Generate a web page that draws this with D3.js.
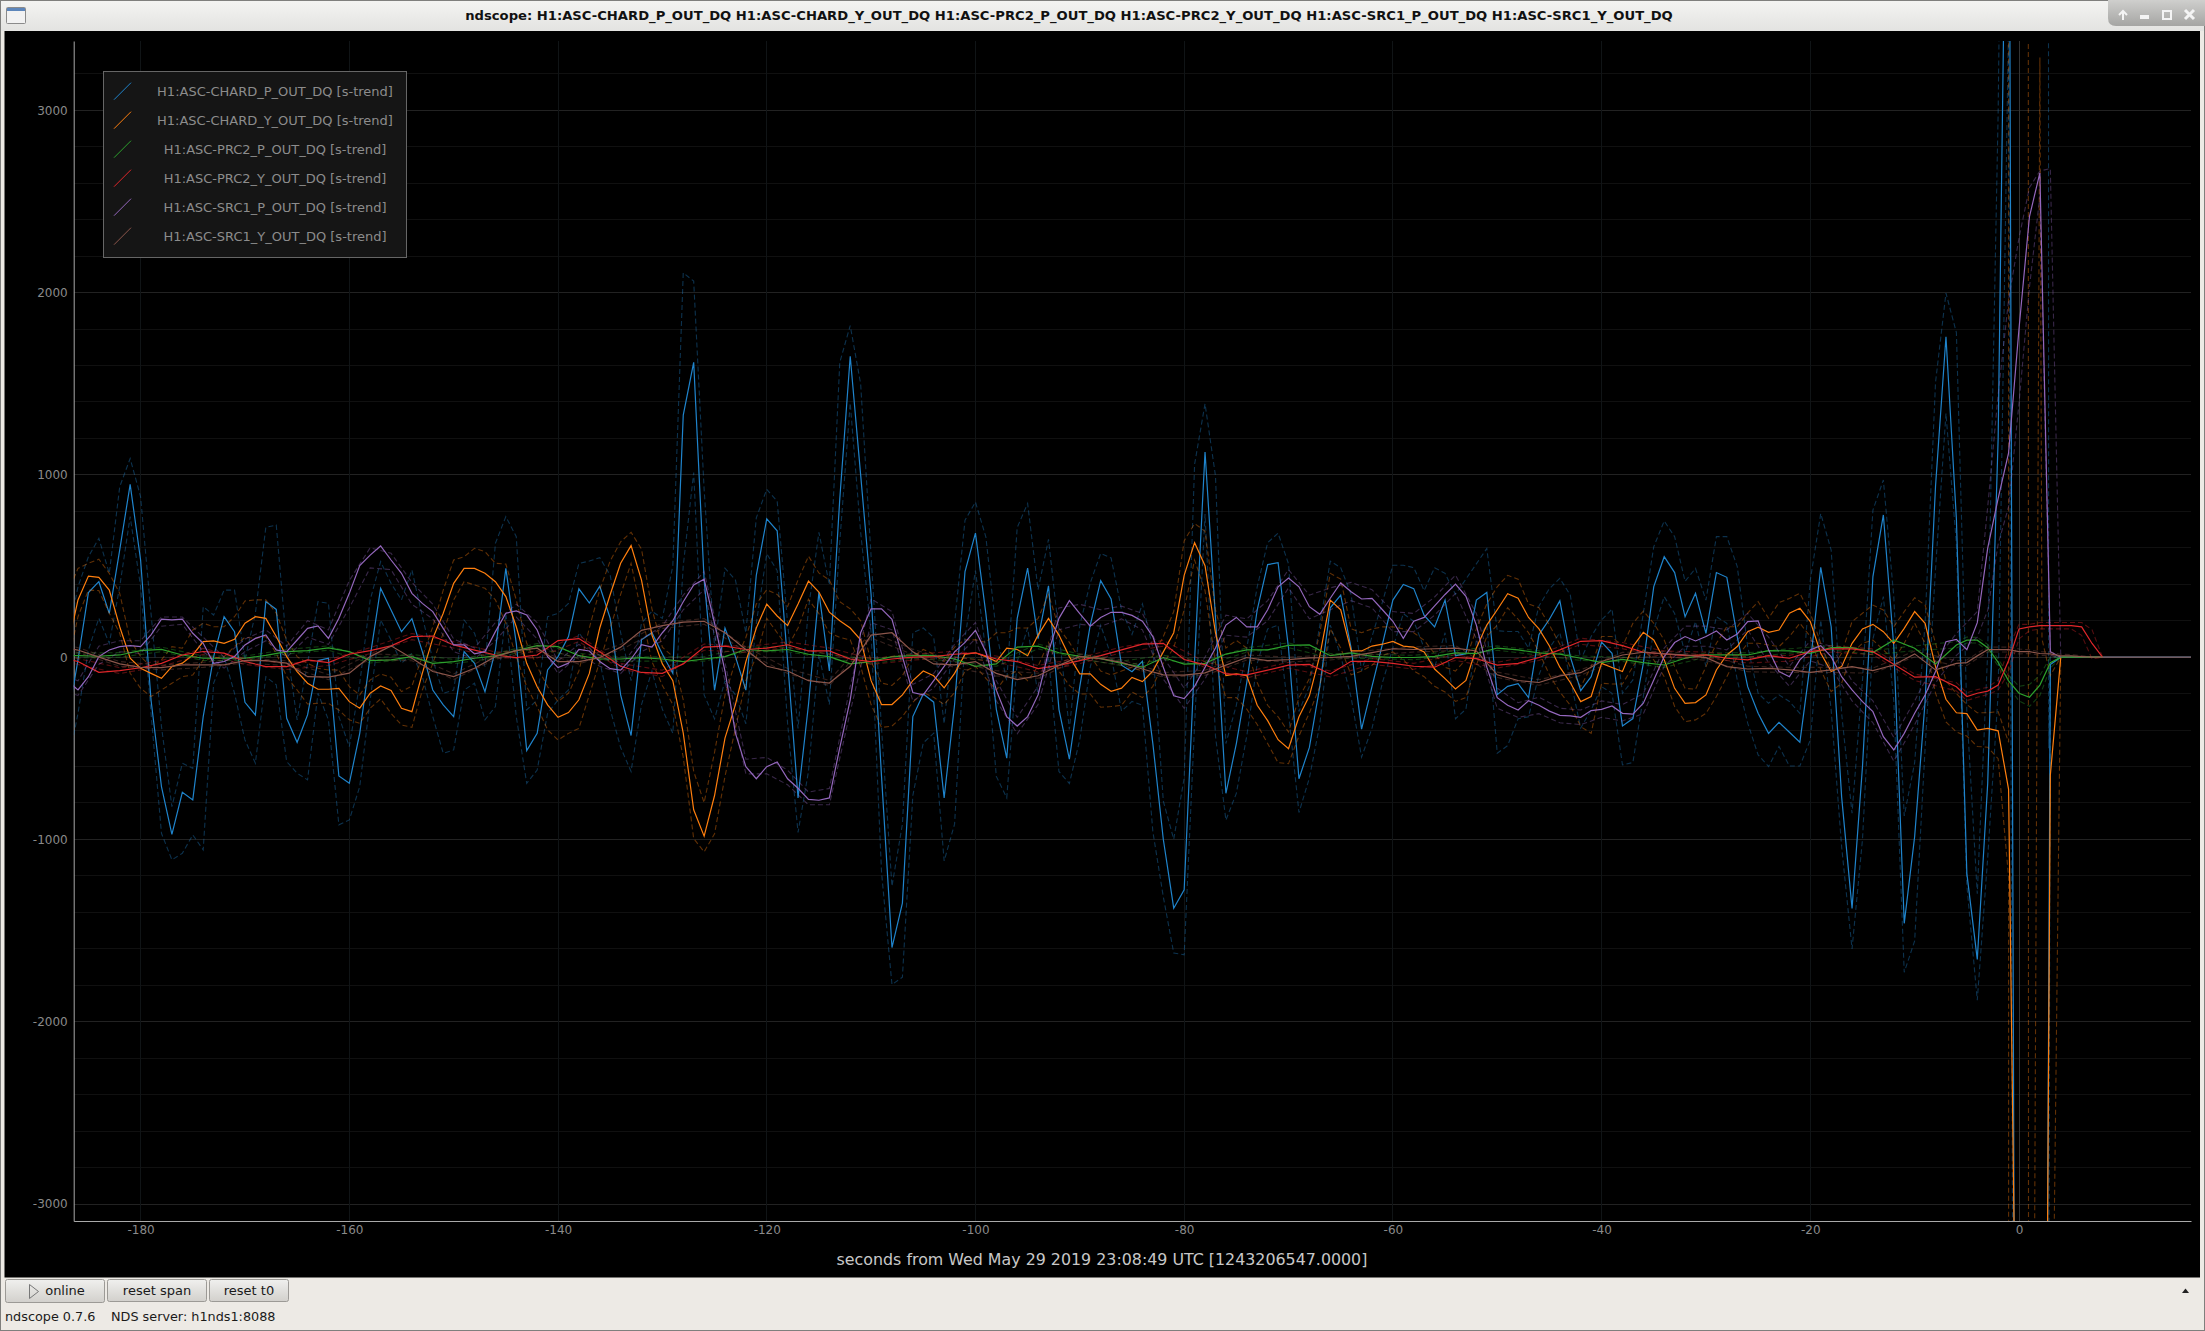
<!DOCTYPE html>
<html>
<head>
<meta charset="utf-8">
<title>ndscope</title>
<script src="https://cdn.jsdelivr.net/npm/d3@7"></script>
<style>
  html, body { margin: 0; padding: 0; background: #edeae5; overflow: hidden; }
  text { font-family: "DejaVu Sans", sans-serif; }
</style>
</head>
<body>
<div id="scope"></div>
<script>
var windowTitle = "ndscope: H1:ASC-CHARD_P_OUT_DQ H1:ASC-CHARD_Y_OUT_DQ H1:ASC-PRC2_P_OUT_DQ H1:ASC-PRC2_Y_OUT_DQ H1:ASC-SRC1_P_OUT_DQ H1:ASC-SRC1_Y_OUT_DQ";
var xLabel = "seconds from Wed May 29 2019 23:08:49 UTC [1243206547.0000]";
var channels = ["H1:ASC-CHARD_P_OUT_DQ [s-trend]", "H1:ASC-CHARD_Y_OUT_DQ [s-trend]", "H1:ASC-PRC2_P_OUT_DQ [s-trend]",
  "H1:ASC-PRC2_Y_OUT_DQ [s-trend]", "H1:ASC-SRC1_P_OUT_DQ [s-trend]", "H1:ASC-SRC1_Y_OUT_DQ [s-trend]"];
var colors = ["#1f84cc", "#ff7f0e", "#2ca02c", "#e0262a", "#9467bd", "#8c564b"];
var xTicks = [-180, -160, -140, -120, -100, -80, -60, -40, -20, 0];
var yTicks = [-3000, -2000, -1000, 0, 1000, 2000, 3000];
var yMinorTicks = d3.range(-3000, 3400, 200);

// one sample per second from -187 to -1
var secondsFull = d3.range(-187, 0);

var blueMean = [-350,-15,354,414,240,588,948,533,-235,-710,
  -972,-741,-783,-326,3,222,140,-248,-317,305,
  262,-335,-467,-317,-19,-6,-652,-692,-418,3,
  378,259,140,211,30,-180,-262,-326,30,-34,
  -189,39,487,76,-513,-418,-70,3,113,375,
  297,389,213,-207,-430,95,134,16,-89,1328,
  1617,423,-181,160,3,-181,449,759,693,-24,
  -772,-260,357,-76,869,1651,1000,344,-654,-1593,
  -1349,-326,-202,-247,-772,-260,470,680,239,-286,
  -554,213,488,102,391,-286,-560,-160,176,420,
  319,-44,-80,-23,-474,-999,-1377,-1276,-13,1125,
  218,-747,-474,-139,260,508,518,50,-667,-495,
  -160,271,340,50,-395,-160,71,313,399,376,
  229,166,313,8,19,313,355,-206,-160,-145,
  -222,124,208,309,3,-184,-107,82,21,-377,
  -337,-34,387,551,464,222,350,131,464,438,
  113,-162,-308,-418,-357,-412,-467,-34,493,167,
  -765,-1379,-600,442,780,58,-1460,-984,-243,939,
  1758,757,-1186,-1658,-692,1200,5500];
var blueMeanEnd = [[0,-11000],[1,-11500],[2,-11900],[3,-40],[4,0],[8,0],[16.5,0]];

var blueMax = [100,386,551,652,460,935,1090,880,240,-380,
  -820,-582,-610,277,231,368,368,-15,240,712,
  725,58,-344,-34,305,295,-326,-491,-143,314,
  524,405,314,478,222,-15,-198,-180,204,131,
  -52,624,771,661,-289,-235,222,240,295,514,
  527,546,449,134,-129,186,252,213,501,2108,
  2063,921,55,488,423,134,764,921,856,186,
  -391,265,685,396,1617,1819,1499,554,-391,-1257,
  -916,134,160,108,-365,186,751,851,659,134,
  -129,711,843,370,646,134,-396,176,407,569,
  544,260,124,292,50,-789,-999,-663,1058,1390,
  995,-474,-264,50,386,628,680,512,-298,-160,
  176,527,491,344,-76,113,302,504,504,491,
  365,491,460,344,428,512,596,145,141,141,
  50,281,376,432,341,-15,113,204,264,-198,
  -125,241,606,747,661,416,487,313,661,661,
  497,58,-198,-253,-207,-243,-308,423,788,587,
  -308,-856,-125,807,972,332,-871,-579,189,1508,
  1997,1780,-300,-1298,30,2985,8000];
var blueMaxEnd = [[2.78,15000],[2.84,-500],[3,0],[4,0]];

var blueMin = [-600,-308,40,213,76,387,771,387,-308,-966,
  -1112,-1076,-975,-1057,-143,3,-198,-454,-582,-107,
  -152,-573,-637,-673,-198,-344,-920,-893,-710,-235,
  204,94,-34,21,-107,-326,-527,-509,-180,-143,
  -344,-271,240,-326,-692,-619,-308,-235,-180,134,
  55,-24,-286,-496,-627,-260,-76,-286,-417,501,
  1013,-207,-339,-129,-207,-365,186,567,475,-365,
  -961,-627,16,-260,633,1394,685,134,-1179,-1796,
  -1756,-759,-470,-417,-1118,-916,108,475,29,-654,
  -772,-24,160,-207,3,-627,-693,-453,-55,176,
  8,-296,-243,-264,-957,-1314,-1623,-1633,-369,785,
  -432,-894,-747,-432,-34,155,176,-306,-852,-663,
  -369,176,8,-222,-548,-390,-139,50,239,197,
  50,-55,134,-338,-285,92,176,-527,-485,-338,
  -327,-97,50,134,-118,-389,-290,-162,-198,-591,
  -578,-216,149,332,240,21,195,-52,222,186,
  -125,-362,-536,-600,-490,-597,-597,-454,204,-290,
  -1039,-1600,-1000,100,332,-240,-1729,-1556,-500,484,
  1337,620,-1250,-1882,-1100,-200,3500];
var blueMinEnd = [[0,-14000],[2.8,-5000],[3,-40],[4,0]];

var orangeMean = [50,314,445,438,368,167,-6,-61,-89,-116,
  -52,-33,12,85,89,76,98,186,222,213,
  113,3,-79,-143,-176,-176,-171,-244,-280,-198,
  -158,-183,-280,-299,-88,103,241,405,487,487,
  460,414,332,167,-34,-162,-262,-330,-304,-234,
  -89,160,344,515,612,423,121,-37,-129,-417,
  -837,-982,-759,-444,-260,-24,160,291,226,173,
  291,417,357,247,200,160,95,-129,-260,-260,
  -207,-129,-76,-102,-168,-89,16,24,3,-24,
  50,42,8,121,213,121,3,-92,-92,-149,
  -187,-170,-111,-134,-76,29,134,449,628,502,
  134,-101,-92,-101,-264,-348,-453,-502,-327,-212,
  8,313,260,34,34,61,71,86,61,55,
  29,-65,-118,-174,-128,50,176,260,348,323,
  218,155,61,-55,-139,-244,-216,-34,-57,-79,
  58,136,94,-15,-171,-253,-249,-207,-70,12,
  58,140,164,136,149,241,268,195,21,-79,
  -52,76,155,180,140,76,158,250,186,-52,
  -231,-305,-310,-400,-391,-404,-725];
var orangeMeanEnd = [[0,-5300],[1,-8000],[2,-10000],[3,-648],[4,0]];

var orangeMax = [350,487,515,537,460,350,94,3,-52,-15,
  58,49,149,186,167,167,222,308,314,314,
  241,94,3,-34,-61,-70,-70,-162,-207,-125,
  -92,-110,-189,-158,3,167,368,533,551,597,
  579,515,511,314,76,-52,-162,-244,-198,-76,
  160,370,528,633,685,593,265,55,3,-234,
  -627,-798,-522,-207,-24,108,291,370,344,278,
  423,554,462,423,304,265,200,-24,-142,-155,
  -102,3,42,16,-24,55,95,95,81,134,
  134,160,160,213,344,160,81,-13,8,-76,
  -97,-76,-55,-76,8,113,250,638,733,691,
  260,50,92,50,-139,-264,-327,-411,-222,-118,
  134,460,428,155,134,155,166,166,155,134,
  92,19,-55,-76,-13,155,292,386,449,428,
  292,271,176,71,-55,-162,-52,113,113,58,
  186,253,186,94,-52,-171,-176,-52,76,167,
  167,241,305,213,299,322,350,241,76,-70,
  21,195,241,286,259,167,250,326,286,76,
  -130,-200,-260,-305,-305,-299,-467];
var orangeMaxEnd = [[-0.98,20000],[0.85,20000],[0.95,-20000],[1,-9500],[2,3290],[2.2,100],[3,-100],[4,0]];

var orangeMin = [-50,222,368,365,241,131,-88,-171,-216,-180,
  -143,-107,-98,-15,-6,3,58,109,103,113,
  21,-107,-180,-257,-253,-253,-290,-344,-363,-280,
  -229,-308,-372,-385,-180,-34,131,314,414,396,
  378,314,186,3,-162,-271,-399,-454,-418,-391,
  -207,-24,160,344,515,239,-24,-155,-260,-549,
  -995,-1068,-969,-654,-391,-129,3,213,134,55,
  160,318,239,134,108,95,-50,-260,-386,-378,
  -326,-247,-194,-220,-260,-194,-76,-50,-116,-181,
  -102,-76,-129,-50,81,-76,-155,-202,-202,-275,
  -271,-264,-191,-222,-160,-34,50,260,533,365,
  -34,-222,-222,-285,-369,-474,-579,-584,-432,-306,
  -160,155,50,-97,-76,-44,8,29,-13,-76,
  -107,-160,-191,-243,-222,-44,113,176,271,208,
  134,29,-97,-191,-264,-381,-418,-143,-147,-147,
  -52,40,-15,-107,-271,-354,-344,-308,-216,-107,
  3,76,76,67,58,113,186,113,-70,-189,
  -143,21,76,94,40,-15,76,186,76,-197,
  -355,-411,-433,-490,-494,-557,-1208];
var orangeMinEnd = [[-0.98,-20000],[3,-5000],[4,0]];

var purpleMean = [-130,-180,-107,3,39,58,63,58,122,208,
  204,208,131,76,-34,-24,3,67,103,122,
  39,30,94,158,171,103,213,350,502,560,
  610,533,460,350,295,250,158,67,67,18,
  30,140,241,254,231,149,3,-57,-33,42,
  34,-24,-63,-71,-10,68,55,134,200,304,
  396,428,186,-76,-417,-601,-667,-601,-575,-667,
  -719,-780,-785,-772,-496,-234,134,265,265,207,
  3,-194,-207,-129,-50,29,81,147,29,-181,
  -326,-378,-326,-207,29,213,310,239,170,218,
  246,246,229,197,113,-55,-212,-227,-160,-55,
  50,176,218,166,166,260,386,434,386,277,
  235,323,407,359,319,323,260,197,103,197,
  218,281,344,401,334,176,-55,-222,-264,-290,
  -239,-264,-296,-319,-322,-330,-293,-286,-268,-308,
  -313,-253,-125,3,80,113,89,113,144,94,
  127,195,199,40,-79,-107,-15,40,63,3,
  -107,-180,-244,-299,-436,-509,-418,-308,-208,-79,
  85,98,41,189,598,871,1121];
var purpleMeanEnd = [[0,1803],[1,2417],[2,2656],[3,30],[4,0]];

// purple envelope read every 2 s
var secondsPurpleBand = [-187].concat(d3.range(-186, -3, 2));
var purpleMax = [-110,-130,60,90,90,220,220,110,0,100,150,60,200,150,420,600,570,410,290,100,50,190,290,190,-20,
  70,10,-50,100,170,340,470,-30,-560,-550,-620,-740,-720,-160,320,250,-150,-90,70,190,-130,-330,-160,270,
  290,260,280,240,0,-170,0,230,210,310,480,340,380,410,370,250,240,330,450,240,-170,-250,-220,-280,-290,-240,
  -260,-200,50,170,170,150,240,110,-50,90,60,-130,-240,-440,-240,-20,130,250];
var purpleMaxEnd = [[-3,825],[-2,1440],[-1,1960],[0,2300],[1,2576],[2,2667],[3,2680],[4,0]];
var purpleMin = [-190,-210,-40,30,20,170,180,30,-60,30,90,0,110,70,270,490,480,290,210,30,-10,90,220,100,-90,
  10,-50,-90,30,90,260,370,-130,-640,-640,-700,-810,-810,-300,190,150,-240,-170,-10,100,-240,-420,-260,150,
  180,170,210,150,-120,-280,-120,120,110,200,380,210,260,310,270,140,140,230,350,100,-280,-330,-310,-360,-370,-330,
  -350,-310,-50,60,60,40,150,-30,-160,-20,-60,-240,-360,-570,-370,-140,10,110];
var purpleMinEnd = [[-3,257],[-2,620],[-1,825],[0,1394],[1,2030],[2,2530],[3,10],[4,0]];

// the three slow channels: means read every 2 s, envelopes every 4 s, every second near the end
var secondsSlowMean = [-187].concat(d3.range(-186, -5, 2), d3.range(-5, 9));
var secondsSlow = [-187].concat(d3.range(-186, -5, 4), d3.range(-5, 9));

var greenMean = [8,
  8,5,12,36,43,12,-6,-6,-6,10,30,36,51,30,-19,-15,3,-34,-24,-6,7,36,63,58,
  8,-10,-10,-3,-10,-24,-10,3,42,34,42,16,3,-37,-24,3,8,8,-10,-50,-37,55,60,24,
  4,-8,-34,-55,-2,-38,-34,17,40,40,65,67,8,23,4,-2,-2,4,23,19,50,40,23,17,
  -6,-30,-12,-30,-43,-6,12,12,12,36,34,21,52,52,25,94,49,-37,67,
  93,93,52,-29,-130,-198,-220,-153,-30,0,0,0,0,0];
var greenMax = [22,
  22,25,55,6,6,42,62,-6,15,-12,20,75,
  20,2,2,2,55,55,15,-12,20,2,-25,72,
  16,-22,10,-22,52,78,20,16,10,35,62,35,
  6,0,-30,24,24,46,64,37,62,85,
  110,108,70,-10,-100,-160,-150,-100,0,0,0,0,0,0];
var greenMin = [-6,
  -4,0,30,-18,-18,18,38,-32,-9,-36,-5,50,
  -5,-22,-22,-22,30,30,-9,-36,-5,-22,-50,46,
  -9,-46,-14,-46,28,52,-4,-8,-14,11,38,11,
  -18,-24,-56,0,0,22,40,13,36,50,
  78,78,35,-48,-165,-240,-270,-210,-60,0,0,0,0,0];
var redMean = [-10,
  -24,-83,-74,-58,-34,12,31,22,-24,-52,-52,-15,-30,16,36,62,113,116,67,39,12,-3,12,91,
  102,29,-50,-84,-89,-37,55,60,42,50,68,34,34,-10,-24,-10,0,3,16,24,-10,-24,-63,-45,
  -19,8,40,71,76,-13,-42,-92,-97,-71,-44,-40,-92,-23,-23,-34,-50,-55,-2,-8,-44,-34,-2,40,
  87,91,63,27,18,8,12,-6,-15,8,-6,30,45,45,30,-39,-110,-107,-162,
  -216,-198,-186,-153,-18,155,166,173,173,173,173,166,75,0];
var redMax = [5,
  -8,-58,-18,48,-8,-36,-14,52,130,84,28,28,
  118,-34,-72,72,58,84,50,-8,16,32,6,-46,
  -3,56,92,-26,-80,-28,-76,-7,-34,14,-28,14,
  104,80,34,28,2,10,62,46,-92,-140,
  -195,-178,-165,-125,50,180,180,190,190,190,190,190,150,0];
var redMin = [-25,
  -40,-90,-50,15,-40,-68,-46,20,96,50,-4,-4,
  86,-66,-106,38,26,52,18,-40,-16,0,-26,-80,
  -35,24,60,-58,-114,-60,-108,-39,-66,-18,-60,-18,
  70,46,2,-4,-32,-22,28,14,-128,-185,
  -238,-220,-205,-180,-85,100,145,155,155,155,155,120,-10,0];
var brownMean = [50,
  39,0,-37,-56,-57,-42,-42,-42,-19,-19,-33,-107,-110,-88,3,62,-6,-79,-107,-61,3,36,49,-24,
  -24,-3,55,147,173,192,197,134,42,-50,-76,-129,-142,-50,121,134,29,-37,-42,-24,-89,-123,-102,-45,
  4,-8,-29,-65,-97,-99,-86,-44,-2,-19,-13,-4,-2,4,25,46,42,46,50,34,-97,-128,-139,-103,
  -85,-24,12,27,18,12,-3,-52,-65,-61,-70,-83,-70,-52,-74,-43,18,-70,-34,
  -30,7,41,41,41,30,30,20,18,7,7,3,0,0];
var brownMax = [65,
  52,-24,-44,-28,-6,-20,-96,18,10,-92,18,62,
  -10,70,188,212,56,-62,-128,136,44,-28,-74,-88,
  18,-15,-84,-72,12,0,12,38,56,64,-82,-124,
  -70,26,32,12,-50,-56,-56,-60,34,-20,
  -16,22,55,55,55,45,40,30,28,16,14,8,0,0];
var brownMin = [35,
  26,-50,-70,-56,-32,-46,-124,-12,-20,-122,-12,36,
  -38,40,158,182,28,-90,-156,106,14,-56,-103,-116,
  -10,-43,-110,-100,-16,-26,-16,12,28,36,-112,-154,
  -100,-2,4,-18,-80,-84,-84,-88,2,-48,
  -45,-8,28,28,28,18,20,10,8,0,0,0,0,0];
var brownEnd = [[16.5,0]];

var svgWidth = 2205;
var svgHeight = 1331;
var plot = { left: 73.7, right: 2191, top: 41, bottom: 1221 };

var svg = d3.select("#scope")
  .append("svg")
  .attr("width", svgWidth)
  .attr("height", svgHeight)
  .style("display", "block");

var defs = svg.append("defs");
var titleGrad = defs.append("linearGradient").attr("id", "titleGrad").attr("x2", 0).attr("y2", 1);
titleGrad.append("stop").attr("offset", 0).attr("stop-color", "#f4f4f2");
titleGrad.append("stop").attr("offset", 1).attr("stop-color", "#e3e3e1");
var cornerGrad = defs.append("linearGradient").attr("id", "cornerGrad").attr("x2", 0).attr("y2", 1);
cornerGrad.append("stop").attr("offset", 0).attr("stop-color", "#cfcfcd");
cornerGrad.append("stop").attr("offset", 1).attr("stop-color", "#a5a5a3");
var buttonGrad = defs.append("linearGradient").attr("id", "buttonGrad").attr("x2", 0).attr("y2", 1);
buttonGrad.append("stop").attr("offset", 0).attr("stop-color", "#f0f0ee");
buttonGrad.append("stop").attr("offset", 1).attr("stop-color", "#d2d0cc");
defs.append("clipPath").attr("id", "plotClip")
  .append("rect")
  .attr("x", plot.left)
  .attr("y", plot.top)
  .attr("width", plot.right - plot.left)
  .attr("height", plot.bottom - plot.top);

// window frame
svg.append("rect").attr("width", svgWidth).attr("height", svgHeight).attr("fill", "#edeae5");
svg.append("rect").attr("width", svgWidth).attr("height", 31).attr("fill", "url(#titleGrad)");
svg.append("rect").attr("x", 4.5).attr("y", 31).attr("width", 2195.5).attr("height", 1246.5).attr("fill", "#000");
svg.append("rect").attr("x", 0.5).attr("y", 0.5).attr("width", svgWidth - 1).attr("height", svgHeight - 1)
  .attr("fill", "none").attr("stroke", "#7f7f7d");

// title bar
svg.append("text")
  .attr("x", 1069)
  .attr("y", 20)
  .attr("text-anchor", "middle")
  .attr("font-size", 13.15)
  .attr("font-weight", "bold")
  .attr("fill", "#111")
  .text(windowTitle);
var icon = svg.append("g");
icon.append("rect").attr("x", 6.5).attr("y", 7.5).attr("width", 19).attr("height", 16).attr("rx", 1)
  .attr("fill", "#f2f2f2").attr("stroke", "#8b8b8b");
icon.append("rect").attr("x", 7).attr("y", 8).attr("width", 18).attr("height", 3).attr("fill", "#5d86bb");
svg.append("path")
  .attr("d", "M2108,0H2205V26H2116Q2108,26 2108,18Z")
  .attr("fill", "url(#cornerGrad)");
var corner = svg.append("g").attr("fill", "none").attr("stroke", "#f4f4f4").attr("stroke-width", 2);
corner.append("path").attr("d", "M2123,20V11M2119,15L2123,11L2127,15");
corner.append("rect").attr("x", 2141).attr("y", 16).attr("width", 7).attr("height", 2).attr("fill", "#f4f4f4");
corner.append("rect").attr("x", 2163).attr("y", 11).attr("width", 8).attr("height", 8);
corner.append("path").attr("d", "M2185,10L2194,19M2194,10L2185,19").attr("stroke-width", 3);

// scales and axes
var xScale = d3.scaleLinear().domain([-186.41, 16.48]).range([plot.left, plot.right]);
var yScale = d3.scaleLinear().domain([3380, -3093]).range([plot.top, plot.bottom]);

var grid = svg.append("g").attr("stroke-width", 1).attr("shape-rendering", "crispEdges");
grid.selectAll(".minor").data(yMinorTicks).enter().append("line")
  .attr("class", "minor")
  .attr("x1", plot.left).attr("x2", plot.right)
  .attr("y1", d => yScale(d)).attr("y2", d => yScale(d))
  .attr("stroke", d => d % 1000 === 0 ? "#222222" : "#101010");
grid.selectAll(".vert").data(xTicks).enter().append("line")
  .attr("class", "vert")
  .attr("y1", plot.top).attr("y2", plot.bottom)
  .attr("x1", d => xScale(d)).attr("x2", d => xScale(d))
  .attr("stroke", d => d === 0 ? "#333333" : "#101416");

var leftAxis = d3.axisLeft(yScale).tickValues(yTicks).tickSize(0).tickPadding(6).tickFormat(d => String(d));
var bottomAxis = d3.axisBottom(xScale).tickValues(xTicks).tickSize(0).tickPadding(4).tickFormat(d => String(d));

var yAxisGroup = svg.append("g").attr("transform", `translate(${plot.left},0)`).call(leftAxis);
var xAxisGroup = svg.append("g").attr("transform", `translate(0,${plot.bottom})`).call(bottomAxis);
[yAxisGroup, xAxisGroup].forEach(function (axis) {
  axis.select(".domain").attr("stroke", "#a9a9a9").attr("stroke-width", 1);
  axis.selectAll("text")
    .attr("fill", "#8a8a8a")
    .attr("font-size", 12)
    .attr("font-family", '"DejaVu Sans", sans-serif');
});

svg.append("text")
  .attr("x", 1102)
  .attr("y", 1265)
  .attr("text-anchor", "middle")
  .attr("font-size", 15.85)
  .attr("fill", "#c8c8c8")
  .text(xLabel);

// channel traces: upper and lower envelope dashed, mean solid
var traceLine = d3.line().x(d => xScale(d[0])).y(d => yScale(d[1]));
function pairs(seconds, values, end) {
  return seconds.map((s, i) => [s, values[i]]).concat(end || []);
}
var traces = [
  { color: 0, max: pairs(secondsFull, blueMax, blueMaxEnd), min: pairs(secondsFull, blueMin, blueMinEnd), mean: pairs(secondsFull, blueMean, blueMeanEnd) },
  { color: 1, max: pairs(secondsFull, orangeMax, orangeMaxEnd), min: pairs(secondsFull, orangeMin, orangeMinEnd), mean: pairs(secondsFull, orangeMean, orangeMeanEnd) },
  { color: 2, max: pairs(secondsSlow, greenMax), min: pairs(secondsSlow, greenMin), mean: pairs(secondsSlowMean, greenMean) },
  { color: 3, max: pairs(secondsSlow, redMax), min: pairs(secondsSlow, redMin), mean: pairs(secondsSlowMean, redMean) },
  { color: 4, max: pairs(secondsPurpleBand, purpleMax, purpleMaxEnd), min: pairs(secondsPurpleBand, purpleMin, purpleMinEnd), mean: pairs(secondsFull, purpleMean, purpleMeanEnd) },
  { color: 5, max: pairs(secondsSlow, brownMax), min: pairs(secondsSlow, brownMin), mean: pairs(secondsSlowMean, brownMean, brownEnd) }
];

var traceGroup = svg.append("g").attr("clip-path", "url(#plotClip)").attr("fill", "none");
traces.forEach(function (trace) {
  [trace.max, trace.min].forEach(function (band) {
    traceGroup.append("path")
      .attr("d", traceLine(band))
      .attr("stroke", colors[trace.color])
      .attr("stroke-width", 1.1)
      .attr("stroke-opacity", 0.38)
      .attr("stroke-dasharray", "5,3");
  });
  traceGroup.append("path")
    .attr("d", traceLine(trace.mean))
    .attr("stroke", colors[trace.color])
    .attr("stroke-width", 1.2);
});

// legend
var legend = svg.append("g");
legend.append("rect")
  .attr("x", 103.5).attr("y", 71.5).attr("width", 303).attr("height", 186)
  .attr("fill", "#151515").attr("stroke", "#666");
var legendRows = legend.selectAll(".row").data(channels).enter().append("g")
  .attr("class", "row")
  .attr("transform", (d, i) => `translate(0,${91.7 + i * 29})`);
legendRows.append("line")
  .attr("x1", 114).attr("y1", 8).attr("x2", 131).attr("y2", -9)
  .attr("stroke", (d, i) => colors[i])
  .attr("stroke-width", 1);
legendRows.append("text")
  .attr("x", 275)
  .attr("y", 4.5)
  .attr("text-anchor", "middle")
  .attr("font-size", 13)
  .attr("fill", "#8c8c8c")
  .text(d => d);

// toolbar
var buttons = [
  { label: "online", x: 5.5, w: 99, h: 23, tx: 65 },
  { label: "reset span", x: 107.5, w: 99, h: 22, tx: 157 },
  { label: "reset t0", x: 209.5, w: 79, h: 22, tx: 249 }
];
var buttonRows = svg.selectAll(".btn").data(buttons).enter().append("g").attr("class", "btn");
buttonRows.append("rect")
  .attr("x", d => d.x).attr("y", 1279.5)
  .attr("width", d => d.w).attr("height", d => d.h)
  .attr("rx", 2)
  .attr("fill", "url(#buttonGrad)").attr("stroke", "#9c9a96");
buttonRows.append("text")
  .attr("x", d => d.tx).attr("y", 1295)
  .attr("text-anchor", "middle")
  .attr("font-size", 13)
  .attr("fill", "#1a1a1a")
  .text(d => d.label);
svg.append("path").attr("d", "M29.5,1284.5V1298.5L38.5,1291.5Z").attr("fill", "none").attr("stroke", "#777");
svg.append("text").attr("x", 5).attr("y", 1320.5).attr("font-size", 12.8).attr("fill", "#1a1a1a").text("ndscope 0.7.6");
svg.append("text").attr("x", 111).attr("y", 1320.5).attr("font-size", 12.8).attr("fill", "#1a1a1a").text("NDS server: h1nds1:8088");
svg.append("path").attr("d", "M2182,1293L2185.5,1288.5L2189,1293Z").attr("fill", "#222");
</script>
</body>
</html>
